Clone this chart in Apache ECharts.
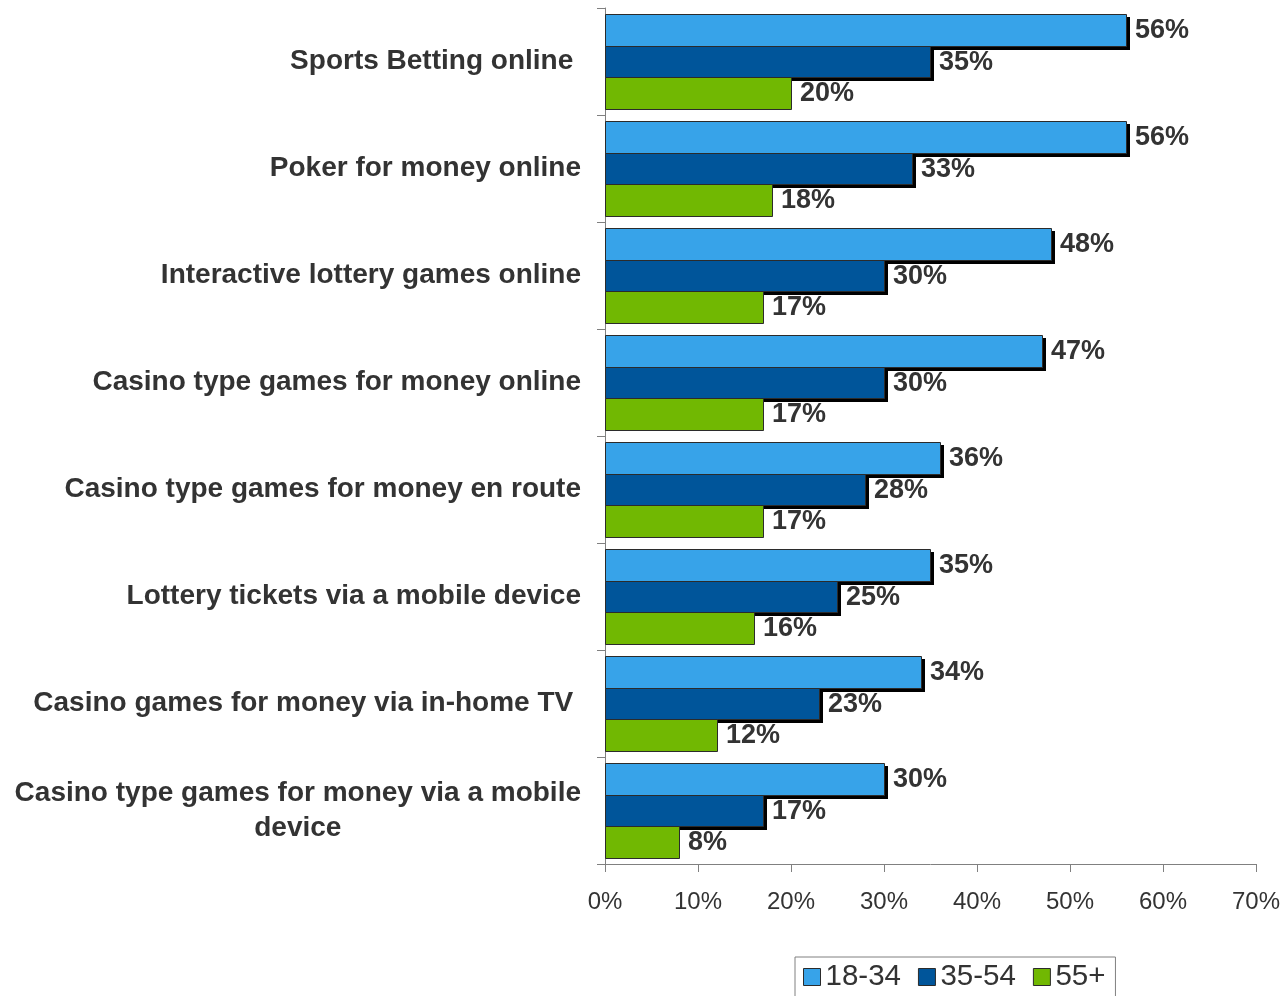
<!DOCTYPE html>
<html>
<head>
<meta charset="utf-8">
<script src="https://cdn.jsdelivr.net/npm/echarts@6/dist/echarts.min.js"></script>
<style>
  html, body { margin: 0; padding: 0; background: #ffffff; }
  #chart { width: 1283px; height: 996px; }
</style>
</head>
<body>
<div id="chart"></div>
<script>
// Activities, top to bottom
const categories = [
  'Sports Betting online ',
  'Poker for money online',
  'Interactive lottery games online',
  'Casino type games for money online',
  'Casino type games for money en route',
  'Lottery tickets via a mobile device',
  'Casino games for money via in-home TV ',
  'Casino type games for money via a mobile\ndevice'
];

// Share of each age group (%)
const age18to34 = [56, 56, 48, 47, 36, 35, 34, 30];
const age35to54 = [35, 33, 30, 30, 28, 25, 23, 17];
const age55plus = [20, 18, 17, 17, 17, 16, 12, 8];

const seriesNames = ['18-34', '35-54', '55+'];
const pctTicks = [0, 10, 20, 30, 40, 50, 60, 70];

const FONT = '"Liberation Sans", Arial, sans-serif';
const TEXT = '#333333';
const AXIS = '#808080';
const EDGE = '#2b2b2b';
const GROUP_FILL = 0.88;   // share of each category band taken by the bar group
const GROUP_SIZE = 3;

// Grouped horizontal bar with a hard drop shadow and a value label
function groupedBar(slot, name, values, color, withShadow) {
  return {
    name: name,
    type: 'custom',
    itemStyle: { color: color },
    encode: { x: 0, y: 1 },
    data: values.map(function (v, i) { return [v, i]; }),
    renderItem: function (params, api) {
      const val = api.value(0);
      const idx = api.value(1);
      const base = api.coord([0, idx]);
      const tip = api.coord([val, idx]);
      const band = api.size([0, 1])[1];
      const barH = band * GROUP_FILL / GROUP_SIZE;
      const top = base[1] - band * GROUP_FILL / 2 + slot * barH;
      const x0 = Math.round(base[0]);
      const x1 = Math.round(tip[0]);
      const y0 = Math.round(top);
      const y1 = Math.round(top + barH);
      const children = [];
      if (withShadow) {
        children.push({
          type: 'rect',
          shape: { x: x0 + 3, y: y0 + 3, width: x1 - x0 + 1, height: y1 - y0 + 1 },
          style: { fill: '#000000' }
        });
      }
      children.push({
        type: 'rect',
        shape: { x: x0 + 0.5, y: y0 + 0.5, width: x1 - x0, height: y1 - y0 },
        style: { fill: color, stroke: EDGE, lineWidth: 1 }
      });
      children.push({
        type: 'text',
        x: x1 + 9,
        y: (y0 + y1) / 2 + 1,
        style: {
          text: val + '%',
          fontFamily: FONT,
          fontSize: 27,
          fontWeight: 'bold',
          fill: TEXT,
          align: 'left',
          verticalAlign: 'middle'
        }
      });
      return { type: 'group', children: children };
    }
  };
}

const chart = echarts.init(document.getElementById('chart'), null, { renderer: 'canvas' });

chart.setOption({
  backgroundColor: '#ffffff',
  animation: false,
  textStyle: { fontFamily: FONT },
  grid: { left: 605, right: 27, top: 8, bottom: 132, containLabel: false },
  xAxis: {
    type: 'value',
    min: pctTicks[0],
    max: pctTicks[pctTicks.length - 1],
    interval: pctTicks[1] - pctTicks[0],
    axisLine: { show: true, lineStyle: { color: AXIS, width: 1 } },
    axisTick: { show: true, length: 8, lineStyle: { color: AXIS } },
    splitLine: { show: false },
    axisLabel: {
      formatter: '{value}%',
      fontFamily: FONT,
      fontSize: 24,
      color: TEXT,
      margin: 26
    }
  },
  yAxis: {
    type: 'category',
    data: categories,
    inverse: true,
    boundaryGap: true,
    axisLine: { show: true, lineStyle: { color: AXIS, width: 1 } },
    axisTick: { show: true, length: 8, lineStyle: { color: AXIS } },
    axisLabel: {
      margin: 24,
      formatter: function (v) {
        return v.split('\n').map(function (s) { return '{c|' + s + '}'; }).join('\n');
      },
      rich: {
        c: {
          fontFamily: FONT,
          fontSize: 28,
          fontWeight: 'bold',
          color: TEXT,
          align: 'center',
          lineHeight: 35
        }
      }
    }
  },
  legend: {
    data: seriesNames,
    left: 795,
    top: 957,
    orient: 'horizontal',
    padding: [5, 10, 20, 8],
    itemGap: 17,
    itemWidth: 17,
    itemHeight: 17,
    icon: 'rect',
    borderColor: AXIS,
    borderWidth: 1,
    itemStyle: { borderColor: EDGE, borderWidth: 1 },
    textStyle: { fontFamily: FONT, fontSize: 29.5, color: TEXT }
  },
  series: [
    groupedBar(0, seriesNames[0], age18to34, '#37A3E9', true),
    groupedBar(1, seriesNames[1], age35to54, '#00559A', true),
    groupedBar(2, seriesNames[2], age55plus, '#71B802', false)
  ]
});
</script>
</body>
</html>
